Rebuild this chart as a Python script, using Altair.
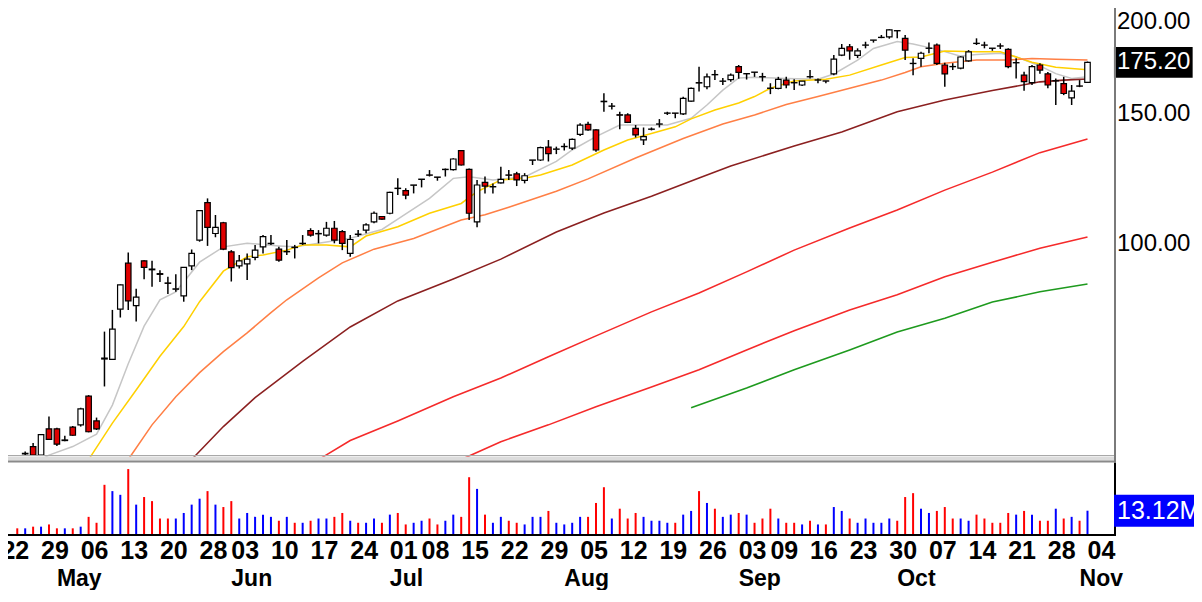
import altair as alt
import pandas as pd

FONT = "Liberation Sans"

# ---------------- candles (trading-day index 0 = Apr 22) ----------------
days = list(range(3, 138))
opens = [
    51.6, 52.8, 51.4, 55.8, 55.8, 53.8, 56.1, 56.5, 61.8, 57.2,
    69.6, 69.3, 81.1, 93.6, 82.0, 94.3, 91.9, 90.6, 88.0, 86.3,
    84.5, 92.8, 100.6, 113.1, 102.7, 106.2, 97.0, 92.8, 93.4, 95.3,
    98.5, 99.5, 97.8, 97.0, 98.4, 99.5, 103.6, 102.6, 102.2, 104.4,
    103.3, 96.5, 102.5, 103.8, 106.5, 108.3, 109.4, 118.3, 117.4, 119.4,
    121.6, 123.3, 122.5, 125.4, 125.4, 133.0, 125.5, 106.5, 120.5, 118.8,
    120.3, 123.3, 123.7, 121.2, 129.1, 129.2, 134.5, 133.6, 134.7, 134.1,
    140.0, 144.4, 141.9, 155.2, 152.8, 148.8, 148.7, 142.6, 137.6, 142.2,
    144.5, 149.5, 149.6, 149.2, 155.3, 164.5, 162.4, 168.7, 165.2, 166.1,
    172.9, 169.1, 170.0, 167.6, 161.7, 161.6, 165.8, 164.5, 163.3, 167.6,
    165.8, 165.4, 169.1, 179.3, 184.0, 179.1, 184.9, 187.8, 189.4, 189.8,
    193.5, 188.9, 174.7, 177.4, 183.1, 185.0, 173.8, 173.0, 172.1, 176.1,
    186.0, 185.0, 183.2, 184.5, 182.5, 175.0, 168.4, 164.5, 173.8, 169.1,
    165.4, 164.0, 156.9, 162.8, 164.6,
]
highs = [
    52.0, 53.4, 54.9, 58.0, 56.0, 54.6, 56.3, 59.6, 62.0, 57.8,
    75.6, 80.9, 87.6, 96.8, 86.4, 94.5, 94.3, 91.6, 89.7, 90.4,
    92.5, 97.7, 110.5, 114.6, 108.8, 106.5, 97.5, 96.0, 96.5, 99.1,
    102.2, 102.2, 98.5, 100.6, 99.1, 102.2, 104.4, 103.8, 106.5, 106.8,
    103.8, 102.2, 103.8, 106.0, 110.0, 108.5, 117.0, 122.0, 118.3, 119.5,
    121.7, 125.2, 122.5, 125.8, 129.9, 133.3, 125.8, 121.4, 122.7, 120.1,
    126.5, 125.2, 124.5, 124.0, 129.2, 134.7, 137.5, 134.7, 136.1, 138.2,
    144.9, 145.6, 142.2, 159.1, 154.4, 150.2, 149.5, 144.1, 143.0, 143.0,
    146.8, 150.2, 149.6, 157.4, 162.0, 172.9, 169.2, 171.1, 166.9, 169.2,
    173.8, 169.2, 170.0, 169.6, 164.2, 167.5, 167.5, 166.2, 165.3, 171.1,
    166.7, 165.4, 179.3, 185.6, 185.6, 183.1, 186.9, 187.9, 190.9, 194.3,
    193.5, 190.9, 177.5, 181.2, 186.4, 185.9, 175.1, 174.8, 178.6, 182.1,
    188.9, 186.9, 183.2, 186.0, 183.1, 177.5, 170.2, 173.8, 174.7, 170.0,
    166.7, 167.5, 163.3, 165.8, 175.7,
]
lows = [
    51.4, 51.3, 51.3, 53.9, 52.9, 53.7, 54.6, 56.2, 55.2, 55.6,
    63.7, 69.2, 79.0, 80.9, 78.0, 89.0, 87.0, 88.3, 85.0, 85.6,
    83.0, 91.6, 100.1, 98.8, 101.5, 97.5, 88.4, 92.1, 88.8, 94.5,
    96.5, 99.1, 94.0, 96.0, 95.0, 99.1, 101.7, 99.6, 101.7, 99.6,
    97.5, 95.5, 101.7, 102.8, 106.0, 107.2, 109.1, 115.8, 114.3, 116.4,
    118.6, 122.7, 121.1, 122.7, 125.0, 127.0, 107.1, 104.7, 116.4, 116.4,
    120.1, 121.4, 119.1, 120.1, 127.2, 128.8, 128.6, 131.6, 133.1, 133.3,
    139.2, 141.6, 132.6, 150.2, 151.3, 142.2, 145.0, 138.6, 135.4, 141.7,
    143.0, 148.7, 147.2, 148.7, 155.0, 160.0, 161.1, 165.8, 163.3, 165.0,
    166.5, 166.1, 167.5, 165.1, 158.7, 161.1, 161.6, 160.7, 162.8, 166.7,
    164.2, 164.2, 168.4, 178.7, 176.7, 177.6, 183.1, 186.4, 189.0, 188.7,
    189.0, 176.5, 168.4, 172.9, 180.3, 173.8, 162.4, 171.1, 171.5, 175.6,
    185.0, 183.1, 181.7, 182.7, 172.1, 166.7, 160.4, 163.3, 169.1, 161.6,
    153.4, 158.2, 153.4, 162.2, 164.3,
]
closes = [
    51.7, 51.4, 54.8, 54.0, 53.2, 53.9, 54.7, 59.4, 55.3, 55.8,
    69.4, 76.2, 87.5, 83.2, 84.2, 92.4, 91.7, 90.4, 87.9, 86.4,
    92.4, 96.5, 110.3, 104.7, 104.7, 97.8, 92.3, 94.3, 94.8, 97.5,
    101.7, 99.6, 94.5, 97.1, 98.3, 99.6, 102.2, 102.7, 104.4, 100.6,
    99.6, 100.8, 102.4, 105.5, 109.4, 107.4, 116.8, 118.2, 115.8, 119.5,
    121.7, 123.2, 122.4, 125.5, 129.6, 127.2, 109.4, 119.5, 119.1, 118.9,
    121.6, 123.2, 121.4, 123.0, 129.2, 134.3, 131.8, 133.7, 134.8, 137.8,
    144.1, 141.9, 133.3, 155.0, 152.9, 148.6, 145.3, 139.7, 139.0, 142.3,
    144.6, 149.6, 149.5, 156.6, 161.6, 164.3, 167.5, 168.6, 165.3, 168.4,
    169.9, 169.2, 169.9, 167.5, 161.6, 166.2, 163.3, 164.4, 165.3, 167.5,
    165.9, 165.3, 177.0, 183.1, 181.7, 181.7, 185.0, 187.9, 189.5, 193.9,
    193.4, 182.1, 174.6, 180.3, 183.2, 174.7, 169.1, 172.9, 178.2, 181.1,
    185.9, 184.9, 183.1, 184.4, 172.9, 175.1, 165.0, 172.9, 171.1, 163.3,
    165.5, 159.0, 160.2, 162.7, 175.2,
]

# ---------------- volume (millions) ----------------
vol_days = list(range(2, 138))
volumes = [
    3.6, 3.6, 4.5, 4.5, 5.7, 3.6, 3.6, 3.6, 4.5, 9.8,
    6.6, 27.1, 23.7, 21.7, 35.6, 16.4, 20.5, 18.3, 8.9, 8.9,
    8.9, 11.9, 16.4, 19.6, 23.7, 16.4, 15.1, 18.3, 8.9, 11.9,
    9.8, 11.0, 9.8, 7.7, 9.8, 6.6, 6.6, 7.7, 8.9, 8.9,
    9.8, 11.9, 7.7, 6.6, 6.6, 8.9, 6.6, 11.0, 11.9, 5.7,
    6.6, 7.7, 8.9, 5.7, 7.7, 11.0, 9.8, 31.2, 24.9, 11.0,
    6.6, 9.8, 7.7, 6.6, 5.7, 9.8, 9.8, 13.0, 6.6, 5.7,
    6.6, 9.8, 9.8, 17.3, 25.8, 8.9, 14.2, 8.9, 11.9, 9.8,
    7.7, 7.7, 6.6, 6.6, 11.0, 13.0, 23.7, 17.3, 14.2, 9.8,
    11.0, 11.9, 11.0, 6.6, 8.9, 14.2, 8.9, 6.6, 6.6, 5.7,
    7.7, 5.7, 5.7, 15.1, 13.0, 8.9, 6.6, 8.9, 6.6, 6.6,
    8.9, 7.7, 20.5, 22.6, 14.2, 11.9, 13.0, 15.1, 8.9, 8.9,
    7.7, 11.0, 8.9, 6.6, 6.6, 11.9, 11.0, 13.0, 11.0, 7.7,
    7.7, 14.2, 8.9, 9.8, 7.7, 13.12,
]

# ---------------- moving averages ----------------
gray_days = [5, 6, 9, 12, 14, 16, 18, 20, 22, 25, 28, 31, 35, 37, 40, 44, 48, 50, 54, 57,
             59, 62, 66, 70, 72, 75, 78, 81, 84, 87, 89, 91, 93, 95, 99, 103, 105, 108, 110,
             113, 115, 118, 121, 123, 126, 128, 131, 133, 135, 137]
gray_vals = [50.7, 51.4, 52.8, 54.9, 60.1, 68.4, 76.9, 83.5, 85.6, 93.9, 98.5, 99.6, 98.8, 98.5,
             99.6, 101.2, 104.0, 107.4, 114.6, 122.0, 122.6, 121.4, 122.5, 128.6, 133.3, 139.0,
             144.1, 144.1, 144.1, 147.2, 153.4, 160.7, 166.9, 167.3, 166.7, 166.3, 169.0, 176.5,
             183.0, 187.0, 185.6, 182.5, 178.7, 179.6, 180.3, 178.4, 173.3, 169.2, 166.7, 167.5]
yellow_days = [11, 14, 17, 20, 23, 25, 28, 31, 33, 36, 38, 41, 44, 46, 50, 54, 58, 60, 63, 66,
               68, 72, 76, 79, 82, 85, 87, 90, 93, 95, 97, 100, 104, 107, 111, 114, 116, 119,
               123, 126, 130, 133, 137]
yellow_vals = [50.7, 56.8, 63.0, 70.0, 76.8, 83.0, 91.3, 95.5, 96.0, 97.5, 99.1, 99.1, 98.5,
               101.9, 104.9, 109.4, 112.8, 117.0, 121.4, 122.0, 123.3, 127.2, 133.3, 137.5,
               140.3, 143.3, 146.9, 151.0, 154.4, 157.5, 161.6, 165.4, 166.2, 168.4, 173.8,
               177.9, 178.2, 181.6, 181.1, 181.1, 175.3, 172.6, 171.2]
orange_days = [16, 19, 22, 25, 28, 31, 34, 36, 40, 43, 47, 52, 58, 61, 64, 70, 74, 80, 86, 91,
               95, 99, 103, 107, 111, 114, 116, 119, 123, 127, 130, 133, 137]
orange_vals = [50.7, 56.5, 61.7, 66.5, 71.0, 75.3, 80.2, 83.5, 89.4, 93.7, 97.8, 101.1, 107.1,
               108.9, 111.5, 117.2, 121.8, 130.0, 138.2, 144.6, 148.7, 153.6, 157.5, 161.6,
               165.8, 169.8, 172.9, 174.8, 176.5, 176.5, 177.4, 177.0, 176.5]
maroon_days = [24, 28, 32, 38, 44, 50, 57, 63, 70, 76, 82, 88, 92, 100, 106, 113, 119, 125,
               131, 134, 137]
maroon_vals = [50.7, 56.2, 61.5, 68.9, 76.7, 83.2, 89.1, 94.8, 103.2, 109.5, 115.4, 122.1,
               126.8, 135.0, 141.0, 150.2, 155.8, 160.5, 164.9, 165.8, 166.4]
red1_days = [40, 44, 50, 57, 63, 69, 75, 82, 88, 94, 100, 107, 113, 119, 125, 131, 137]
red1_vals = [50.7, 53.8, 57.2, 61.7, 65.4, 69.9, 74.6, 80.4, 85.3, 91.1, 97.5, 104.5, 110.5,
             117.6, 124.4, 132.2, 137.9]
red2_days = [58, 63, 69, 75, 82, 88, 94, 100, 107, 113, 119, 125, 131, 137]
red2_vals = [50.7, 53.6, 56.5, 59.8, 63.6, 67.1, 71.4, 75.8, 80.9, 84.8, 89.7, 93.9, 98.1, 101.6]
green_days = [87, 94, 100, 107, 113, 119, 125, 131, 137]
green_vals = [59.6, 63.4, 67.1, 71.4, 75.5, 78.8, 82.9, 85.6, 87.7]

# ---------------- axis labels ----------------
week_days = [0, 5, 10, 15, 20, 25, 29, 34, 39, 44, 49, 53, 58, 63, 68, 73, 78, 83, 88, 93,
             97, 102, 107, 112, 117, 122, 127, 132, 137]
week_labels = ["22", "29", "06", "13", "20", "28", "03", "10", "17", "24", "01", "08", "15",
               "22", "29", "05", "12", "19", "26", "03", "09", "16", "23", "30", "07", "14",
               "21", "28", "04"]
month_days = [7, 29, 49, 71, 93, 113, 136]
month_labels = ["May", "Jun", "Jul", "Aug", "Sep", "Oct", "Nov"]
price_ticks = [100, 150, 200]

# ---------------- frames ----------------
cdf = pd.DataFrame({"day": days, "open": opens, "high": highs, "low": lows, "close": closes})
direction = {d: (c < o) for d, o, c in zip(days, opens, closes)}
vdf = pd.DataFrame({"day": vol_days, "vol": volumes,
                    "down": [direction.get(d, True) for d in vol_days]})

ma_names = ["gray", "yellow", "orange", "maroon", "red1", "red2", "green"]
ma_colors = ["#C6C6C6", "#FFD000", "#FF7F45", "#8B2020", "#F52A2A", "#F52A2A", "#1E9A1E"]
ma_widths = [1.5, 1.6, 1.8, 2.2, 1.8, 1.8, 3.2]
ma_parts = []
for name, dd, vv in [("gray", gray_days, gray_vals), ("yellow", yellow_days, yellow_vals),
                     ("orange", orange_days, orange_vals), ("maroon", maroon_days, maroon_vals),
                     ("red1", red1_days, red1_vals), ("red2", red2_days, red2_vals),
                     ("green", green_days, green_vals)]:
    ma_parts.append(pd.DataFrame({"day": dd, "value": vv, "series": name}))
ma_df = pd.concat(ma_parts, ignore_index=True)

wdf = pd.DataFrame({"day": week_days, "label": week_labels})
mdf = pd.DataFrame({"day": month_days, "label": month_labels})
tdf = pd.DataFrame({"price": price_ticks})
last_price = cdf.tail(1)
last_vol = vdf.tail(1)
dummy = pd.DataFrame({"a": [0]})

# ---------------- scales ----------------
W, H, PH = 1106, 527, 452
xs = alt.Scale(domain=[1.4625, 139.7125], nice=False, zero=False)
ps = alt.Scale(type="log", domain=[50.63, 207.67], range=[PH, 0], nice=False)
vs = alt.Scale(domain=[0, 40.5], range=[H, PH], nice=False, zero=True)
X = alt.X("day:Q", scale=xs, axis=None)

# ---------------- price panel ----------------
ma = alt.Chart(ma_df).mark_line().encode(
    x=X,
    y=alt.Y("value:Q", scale=ps, axis=None),
    color=alt.Color("series:N", scale=alt.Scale(domain=ma_names, range=ma_colors), legend=None),
    strokeWidth=alt.StrokeWidth("series:N", scale=alt.Scale(domain=ma_names, range=ma_widths),
                                legend=None),
    detail="series:N",
)
wicks = alt.Chart(cdf).mark_rule(color="black", strokeWidth=1.5).encode(
    x=X, y=alt.Y("low:Q", scale=ps, axis=None), y2="high:Q")
bodies = alt.Chart(cdf).mark_bar(width=5.5, stroke="black", strokeWidth=1.2).encode(
    x=X,
    y=alt.Y("open:Q", scale=ps, axis=None),
    y2="close:Q",
    fill=alt.condition("datum.close < datum.open", alt.value("#E00000"), alt.value("#FFFFFF")),
)
ticklabels = alt.Chart(tdf).mark_text(
    align="left", baseline="middle", color="black", fontSize=24, font=FONT, dy=2,
).encode(x=alt.value(W + 3), y=alt.Y("price:Q", scale=ps, axis=None),
         text=alt.Text("price:Q", format=".2f"))
pbox = alt.Chart(last_price).mark_point(
    shape="M-1,-0.39L1,-0.39L1,0.39L-1,0.39Z", size=6194, filled=True, color="black",
    opacity=1, strokeWidth=0,
).encode(x=alt.value(W + 39.3), y=alt.Y("close:Q", scale=ps, axis=None))
ptext = alt.Chart(last_price).mark_text(
    align="left", baseline="middle", color="white", fontSize=24, font=FONT,
).encode(x=alt.value(W + 3), y=alt.Y("close:Q", scale=ps, axis=None),
         text=alt.Text("close:Q", format=".2f"))

price = alt.layer(ma, wicks, bodies, ticklabels, pbox, ptext)

# ---------------- volume panel ----------------
vbars = alt.Chart(vdf).mark_bar(width=2).encode(
    x=X,
    y=alt.Y("vol:Q", scale=vs, axis=None),
    fill=alt.condition("datum.down", alt.value("#FF0000"), alt.value("#0000FF")),
)
vbox = alt.Chart(last_vol).mark_point(
    shape="M-1,-0.32L1,-0.32L1,0.32L-1,0.32Z", size=10000, filled=True, color="#0000FF",
    opacity=1, strokeWidth=0,
).encode(x=alt.value(W + 50), y=alt.Y("vol:Q", scale=vs, axis=None))
vtext = alt.Chart(last_vol).transform_calculate(
    lbl="format(datum.vol, '.2f') + 'M'"
).mark_text(align="left", baseline="middle", color="white", fontSize=25, font=FONT).encode(
    x=alt.value(W + 3), y=alt.Y("vol:Q", scale=vs, axis=None), text="lbl:N")

weeks = alt.Chart(wdf).mark_text(
    align="left", baseline="alphabetic", fontSize=25, fontWeight="bold", font=FONT, color="black"
).encode(x=X, y=alt.value(551), text="label:N")
months = alt.Chart(mdf).mark_text(
    align="left", baseline="alphabetic", fontSize=23, fontWeight="bold", font=FONT, color="black"
).encode(x=X, y=alt.value(578), text="label:N")

base = alt.Chart(dummy)
sep1 = base.mark_rule(color="#A8A8A8", strokeWidth=1).encode(
    x=alt.value(0), x2=alt.value(W + 2), y=alt.value(447.5))
sep2 = base.mark_rule(color="#DCDCDC", strokeWidth=4).encode(
    x=alt.value(0), x2=alt.value(W + 2), y=alt.value(450.5))
sep3 = base.mark_rule(color="#8A8A8A", strokeWidth=2).encode(
    x=alt.value(0), x2=alt.value(W + 2), y=alt.value(453.5))
rborder1 = base.mark_rule(color="#7A7A7A", strokeWidth=2).encode(
    x=alt.value(W + 1), y=alt.value(0), y2=alt.value(455))
rborder2 = base.mark_rule(color="black", strokeWidth=2).encode(
    x=alt.value(W + 1), y=alt.value(455), y2=alt.value(H + 1))
baseline = base.mark_rule(color="black", strokeWidth=2).encode(
    x=alt.value(0), x2=alt.value(W + 2), y=alt.value(H))

volume = alt.layer(vbars, weeks, months, sep1, sep2, sep3, rborder1, rborder2, baseline,
                   vbox, vtext)

chart = alt.layer(price, volume).resolve_scale(y="independent").properties(
    width=W, height=H,
    autosize=alt.AutoSizeParams(type="none"),
    padding={"left": 0, "top": 0, "right": 80, "bottom": 55},
    background="white",
).configure_view(stroke=None)

chart.save("out.html", embed_options={"renderer": "svg", "actions": False})
